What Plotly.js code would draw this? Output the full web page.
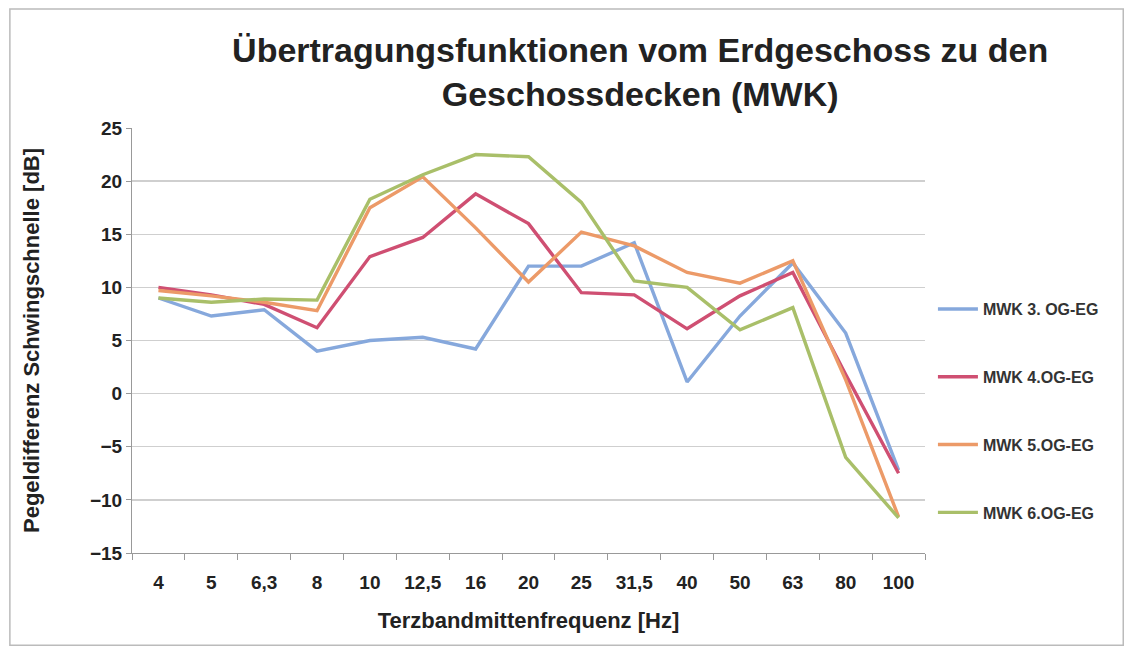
<!DOCTYPE html>
<html><head><meta charset="utf-8">
<script src="https://cdn.plot.ly/plotly-3.0.1.min.js"></script>
<style>html,body{margin:0;padding:0;background:#fff}#chart{width:1135px;height:653px}</style>
</head><body><div id="chart"></div>
<script>
const frequencies = ["4","5","6,3","8","10","12,5","16","20","25","31,5","40","50","63","80","100"];
const seriesNames = ["MWK 3. OG-EG","MWK 4.OG-EG","MWK 5.OG-EG","MWK 6.OG-EG"];
const mwk3 = [9.0, 7.3, 7.9, 4.0, 5.0, 5.3, 4.2, 12.0, 12.0, 14.2, 1.1, 7.3, 12.3, 5.7, -7.2];
const mwk4 = [10.0, 9.3, 8.4, 6.2, 12.9, 14.7, 18.8, 16.0, 9.5, 9.3, 6.1, 9.2, 11.4, 1.8, -7.5];
const mwk5 = [9.7, 9.2, 8.6, 7.8, 17.5, 20.4, 15.6, 10.5, 15.2, 13.9, 11.4, 10.4, 12.5, 1.3, -11.6];
const mwk6 = [9.0, 8.6, 8.9, 8.8, 18.3, 20.6, 22.5, 22.3, 18.0, 10.6, 10.0, 6.0, 8.1, -6.0, -11.7];
const colors = ["#86a8dc","#cf4f72","#ec9a68","#a9bf69"];
const allSeries = [mwk3, mwk4, mwk5, mwk6];

const FONT = "'Liberation Sans Narrow', 'Arial Narrow', 'Liberation Sans', Arial, sans-serif";
const traces = allSeries.map((s, i) => ({
  x: frequencies, y: s, type: "scatter", mode: "lines", name: seriesNames[i],
  legendgroup: "g" + i,
  line: {color: colors[i], width: 3.4}
}));

const layout = {
  width: 1135, height: 653,
  margin: {l: 132, r: 210, t: 128, b: 100},
  paper_bgcolor: "#fff", plot_bgcolor: "#fff",
  title: {text: "<b>Übertragungsfunktionen vom Erdgeschoss zu den<br>Geschossdecken (MWK)</b>",
    font: {family: FONT, size: 34, color: "#222"}, x: 0.564, xanchor: "center", y: 0.905, yanchor: "top"},
  xaxis: {type: "category", range: [-0.5, 14.5], tickson: "boundaries", ticks: "outside", ticklen: 6,
    tickcolor: "#999", showline: true, linecolor: "#999", linewidth: 1, showgrid: false, zeroline: false,
    ticklabelstandoff: 12,
    tickfont: {family: FONT, size: 19, color: "#222", weight: "bold"},
    title: {text: "<b>Terzbandmittenfrequenz [Hz]</b>", font: {family: FONT, size: 22, color: "#222"}, standoff: 20}},
  yaxis: {range: [-15, 25], dtick: 5, ticks: "outside", ticklen: 5, tickcolor: "#999",
    showline: true, linecolor: "#999", showgrid: true, gridcolor: "#cfcfcf", gridwidth: 1.3, zeroline: false,
    tickfont: {family: FONT, size: 19, color: "#222", weight: "bold"},
    title: {text: "<b>Pegeldifferenz Schwingschnelle [dB]</b>", font: {family: FONT, size: 22, color: "#222"}, standoff: 44}},
  legend: {x: 1.01, xanchor: "left", y: 0.334, yanchor: "middle", tracegroupgap: 44,
    font: {family: FONT, size: 16, color: "#333", weight: "bold"}, itemwidth: 40},
  shapes: [{type: "rect", xref: "paper", yref: "paper", x0: -0.154, x1: 1.25, y0: -0.217, y1: 1.28,
    line: {color: "#bbb", width: 1.5}}],
  showlegend: true
};
Plotly.newPlot("chart", traces, layout, {displayModeBar: false, staticPlot: true});
</script></body></html>
